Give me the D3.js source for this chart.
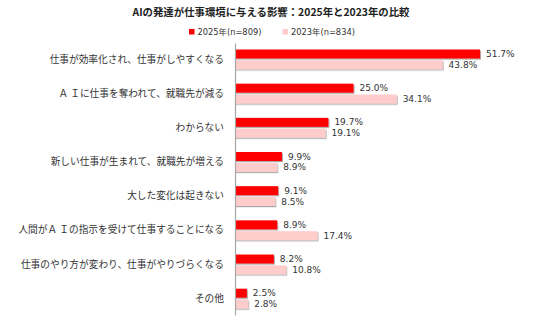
<!DOCTYPE html>
<html>
<head>
<meta charset="utf-8">
<script src="https://cdn.jsdelivr.net/npm/d3@7"></script>
<style>
  body { margin: 0; background: #fff; }
  svg { display: block; }
</style>
</head>
<body>
<div id="chart"></div>
<script>
/* --------------------------------------------------------------
DATOS
-------------------------------------------------------------- */
const categories = [
    "仕事が効率化され、仕事がしやすくなる",
    "Ａ Ｉに仕事を奪われて、就職先が減る",
    "わからない",
    "新しい仕事が生まれて、就職先が増える",
    "大した変化は起きない",
    "人間がＡ Ｉの指示を受けて仕事することになる",
    "仕事のやり方が変わり、仕事がやりづらくなる",
    "その他"
];
const seriesNames = ["2025年(n=809)", "2023年(n=834)"];
const values2025 = [51.7, 25.0, 19.7, 9.9, 9.1, 8.9, 8.2, 2.5];
const values2023 = [43.8, 34.1, 19.1, 8.9, 8.5, 17.4, 10.8, 2.8];
const colors = ["#ff0000", "#ffcccc"];

const title = "AIの発達が仕事環境に与える影響：2025年と2023年の比較";

/* --------------------------------------------------------------
GRAFICO
-------------------------------------------------------------- */
const width = 536, height = 324;
const jpFont = "'Noto Sans CJK JP', 'Noto Sans', sans-serif";
const numFont = "'DejaVu Sans', Verdana, 'Noto Sans CJK JP', sans-serif";

const svg = d3.select("#chart").append("svg")
    .attr("width", width)
    .attr("height", height);

const defs = svg.append("defs");
const shadow = defs.append("filter").attr("id", "shadow")
    .attr("x", "-5%").attr("y", "-20%").attr("width", "115%").attr("height", "160%");
shadow.append("feDropShadow")
    .attr("dx", 1).attr("dy", 1.2).attr("stdDeviation", 0.6)
    .attr("flood-color", "#000").attr("flood-opacity", 0.35);

const x = d3.scaleLinear().domain([0, 60]).range([235, 235 + 60 * 4.74]);

const y0 = d3.scaleBand()
    .domain(categories)
    .range([43, 315])
    .paddingInner(0.42)
    .paddingOuter(0.19);

const y1 = d3.scaleBand()
    .domain(seriesNames)
    .range([0, y0.bandwidth()])
    .paddingInner(0.17);

const rows = categories.map((c, i) => ({
    cat: c,
    vals: [
        { s: seriesNames[0], v: values2025[i], color: colors[0] },
        { s: seriesNames[1], v: values2023[i], color: colors[1] }
    ]
}));

// titulo
svg.append("text")
    .attr("x", 271).attr("y", 15.5)
    .attr("text-anchor", "middle")
    .attr("font-family", jpFont)
    .attr("font-weight", "bold")
    .attr("font-size", 10.4)
    .attr("fill", "#222")
    .text(title);

// leyenda
const legendX = [189, 282.5];
const legend = svg.append("g").selectAll("g")
    .data(seriesNames)
    .enter().append("g")
    .attr("transform", (d, i) => `translate(${legendX[i]},29)`);
legend.append("rect")
    .attr("width", 5.5).attr("height", 5.5)
    .attr("fill", (d, i) => colors[i]);
legend.append("text")
    .attr("x", 8.5).attr("y", 5.8)
    .attr("font-family", numFont)
    .attr("font-size", 8.3)
    .attr("fill", "#333")
    .text(d => d);

// barras
const groups = svg.append("g").selectAll("g")
    .data(rows)
    .enter().append("g")
    .attr("transform", d => `translate(0,${y0(d.cat)})`);

groups.selectAll("rect")
    .data(d => d.vals)
    .enter().append("rect")
    .attr("x", x(0))
    .attr("y", d => y1(d.s))
    .attr("width", d => x(d.v) - x(0))
    .attr("height", y1.bandwidth())
    .attr("fill", d => d.color)
    .attr("filter", "url(#shadow)");

groups.selectAll("text.val")
    .data(d => d.vals)
    .enter().append("text")
    .attr("class", "val")
    .attr("x", d => x(d.v) + 6)
    .attr("y", d => y1(d.s) + y1.bandwidth() / 2)
    .attr("dy", "0.35em")
    .attr("font-family", numFont)
    .attr("font-size", 9)
    .attr("fill", "#333")
    .text(d => d.v.toFixed(1) + "%");

// eje y
const yAxis = svg.append("g")
    .attr("transform", `translate(${x(0)},0)`)
    .call(d3.axisLeft(y0).tickSize(0).tickPadding(11));
yAxis.select(".domain").attr("stroke", "#a6a6a6").attr("stroke-width", 1.2);
yAxis.selectAll("text")
    .attr("font-family", jpFont)
    .attr("font-size", 9.7)
    .attr("fill", "#333");
</script>
</body>
</html>
